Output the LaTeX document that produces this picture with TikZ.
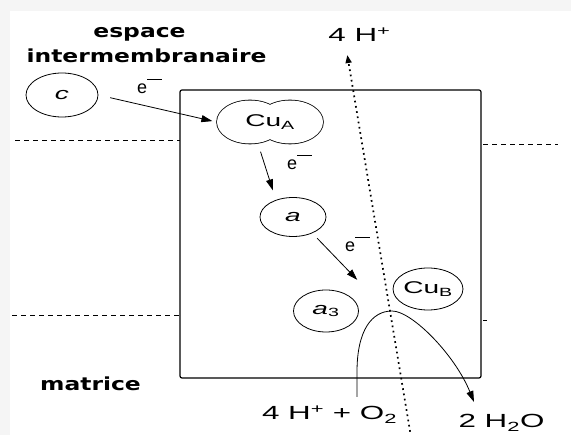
\documentclass[tikz,border=0pt]{standalone}
\usepackage{fontspec}
\setmainfont{Liberation Sans}
\newfontfamily\wide{Liberation Sans}[FakeStretch=1.65]
\newfontfamily\labfont{DejaVu Sans}[FakeStretch=1.3]
\usetikzlibrary{arrows.meta,shapes.geometric,positioning}
\newcommand{\elec}{e\raisebox{14pt}{\rule{15pt}{0.9pt}}}

\begin{document}
\begin{tikzpicture}[x=1pt, y=-1pt, font=\wide,
		site/.style={ellipse, draw, line width=0.8pt, inner sep=0pt, minimum width=65pt, minimum height=42pt, font=\wide\fontsize{17}{19}\selectfont},
		lab/.style={font=\labfont\bfseries\fontsize{18}{20}\selectfont, inner sep=0pt},
		chem/.style={font=\wide\fontsize{19}{21}\selectfont, inner sep=2pt},
		elab/.style={font=\fontsize{18}{20}\selectfont, inner sep=0pt, anchor=base west},
		arr/.style={-{Triangle[length=11pt,width=7pt]}, line width=0.8pt},
		proton/.style={-{Triangle[length=8pt,width=6pt]}, line width=1.7pt, dash pattern=on 1.7pt off 3.6pt},
		membrane/.style={line width=0.8pt, dash pattern=on 5pt off 4pt}]
		\useasboundingbox (0,0) rectangle (571,435);
		\fill[gray!8] (0,0) rectangle (571,435);
		\fill[white] (10,11) rectangle (571,435);
		
		% Membrane and complex
		\foreach \a/\b/\y in {15/180/140, 483/558/144, 12/180/315, 483/487/320} {
			\draw[membrane] (\a,\y) -- (\b,\y);
		}
		\draw[line width=1.2pt, rounded corners=2pt] (180,90) rectangle (481,378);
		
		% Labels
		\node[lab, anchor=base] (esp) at (139.5,38) {espace};
		\node[lab, anchor=base] (inter) at (146.5,63) {intermembranaire};
		\node[lab, anchor=base] (mat) at (90.5,391) {matrice};
		
		% Redox sites
		\draw[line width=1.6pt] (250,122) ellipse [x radius=33pt, y radius=21.5pt];
		\draw[line width=1.6pt] (290,122) ellipse [x radius=33pt, y radius=21.5pt];
		\fill[white] (250,122) ellipse [x radius=33pt, y radius=21.5pt];
		\fill[white] (290,122) ellipse [x radius=33pt, y radius=21.5pt];
		\node[ellipse, inner sep=0pt, minimum width=107pt, minimum height=43pt, font=\wide\fontsize{17}{19}\selectfont] (cuA) at (270,122) {Cu\textsubscript{A}};
		\node[site, minimum width=72pt, minimum height=44pt] (c) at (62,95) {\itshape c};
		\node[site, minimum width=66pt, minimum height=39pt] (a) at (293,217) {\itshape a};
		\node[site] (a3) at (326,311) {\textit{a}\textsubscript{3}};
		\node[site] (cuB) at (428,289) {Cu\textsubscript{B}};
		
		% Electrons
		\draw[arr, shorten <=12pt, shorten >=4pt] (c.east) -- (cuA.west);
		\draw[arr, shorten <=9pt, shorten >=10pt] (cuA.-120) -- (a.135);
		\coordinate (ea3) at ([shift={(8,-16)}]a3.north east);
		\draw[arr, shorten <=7pt] (a.-40) -- (ea3);
		\node[elab] (e1) at (137,94) {\elec};
		\node[elab] (e2) at (287,170) {\elec};
		\node[elab] (e3) at (345,252) {\elec};
		
		% Protons and oxygen
		\node[chem, anchor=base] (ht) at (359.5,42) {4 H\textsuperscript{+}};
		\node[chem, anchor=base] (reac) at (329.5,420) {4 H\textsuperscript{+} + O\textsubscript{2}};
		\node[chem, anchor=base] (water) at (501.5,428) {2 H\textsubscript{2}O};
		\coordinate (pb) at (411,437);
		\draw[proton, shorten >=11pt] (pb) -- ([xshift=-14pt]ht.south);
		\coordinate (st) at (357,397);
		\coordinate (en) at (474,402);
		\draw[arr] (st) -- (357,372) .. controls (357,330) and (372,311) .. (392,311) .. controls (412,311) and (455,355) .. (en);
	\end{tikzpicture}
\end{document}
